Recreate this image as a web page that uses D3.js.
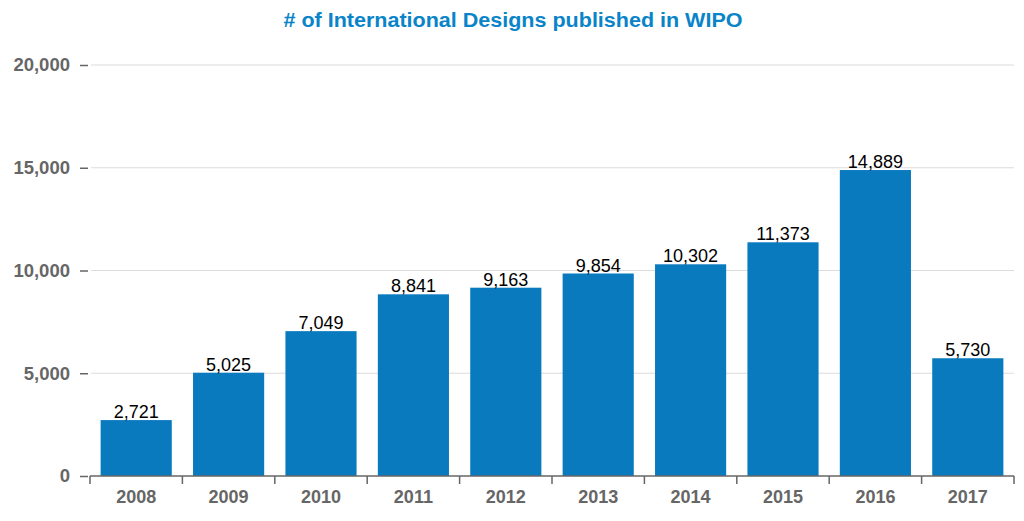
<!DOCTYPE html>
<html><head><meta charset="utf-8">
<script src="https://cdn.jsdelivr.net/npm/d3@7"></script>
<style>body{margin:0;background:#fff;}svg{display:block;}</style>
</head><body>
<svg id="c" width="1024" height="521"></svg>
<script>
const years = ["2008","2009","2010","2011","2012","2013","2014","2015","2016","2017"];
const designs = [2721,5025,7049,8841,9163,9854,10302,11373,14889,5730];
const yTicks = [0,5000,10000,15000,20000];
const title = "# of International Designs published in WIPO";

const svg = d3.select("#c");
const x = d3.scaleBand().domain(years).range([90,1014]).paddingInner(0.23).paddingOuter(0.115);
const y = d3.scaleLinear().domain([0,20000]).range([476,65]);
const fmt = d3.format(",");

svg.append("text").attr("x",513).attr("y",27).attr("text-anchor","middle")
  .attr("font-family","'Liberation Sans', Arial, sans-serif").attr("font-weight","bold")
  .attr("font-size",19.5).attr("fill","#0a84c8").attr("textLength",459).attr("lengthAdjust","spacingAndGlyphs").text(title);

// gridlines
svg.append("g").selectAll("line").data(yTicks.filter(d=>d>0)).join("line")
  .attr("x1",91).attr("x2",1014).attr("y1",d=>y(d)).attr("y2",d=>y(d))
  .attr("stroke","#dcdcdc").attr("stroke-width",1.2);

// y axis
const ya = svg.append("g").attr("transform","translate(88,0)")
  .call(d3.axisLeft(y).tickValues(yTicks).tickFormat(fmt).tickSize(8).tickPadding(10));
ya.select(".domain").remove();
ya.selectAll(".tick line").attr("stroke","#666").attr("stroke-width",1.5);
ya.selectAll(".tick text").attr("fill","#666").attr("font-family","'Liberation Sans', Arial, sans-serif")
  .attr("font-weight","bold").attr("font-size",18.5);

// bars
svg.append("g").selectAll("rect").data(years).join("rect")
  .attr("x",d=>x(d)).attr("width",x.bandwidth())
  .attr("y",(d,i)=>y(designs[i])).attr("height",(d,i)=>y(0)-y(designs[i]))
  .attr("fill","#0a7abf");

// value labels
svg.append("g").selectAll("text").data(years).join("text")
  .attr("x",d=>x(d)+x.bandwidth()/2).attr("y",(d,i)=>y(designs[i])-2)
  .attr("text-anchor","middle").attr("font-family","'Liberation Sans', Arial, sans-serif")
  .attr("font-size",18).attr("fill","#000").text((d,i)=>fmt(designs[i]));

// x axis
const xa = svg.append("g").attr("transform","translate(0,476)");
xa.append("line").attr("x1",90).attr("x2",1014).attr("y1",0).attr("y2",0).attr("stroke","#666").attr("stroke-width",1.5);
const edges = years.map(d=>x(d)-x.step()*x.paddingInner()/2);
edges.push(x(years[years.length-1])+x.bandwidth()+x.step()*x.paddingInner()/2);
xa.selectAll("line.t").data(edges).join("line").attr("class","t")
  .attr("x1",d=>d).attr("x2",d=>d).attr("y1",0).attr("y2",8).attr("stroke","#666").attr("stroke-width",1.5);
xa.selectAll("text").data(years).join("text")
  .attr("x",d=>x(d)+x.bandwidth()/2).attr("y",27).attr("text-anchor","middle")
  .attr("font-family","'Liberation Sans', Arial, sans-serif").attr("font-weight","bold")
  .attr("font-size",18).attr("fill","#666").text(d=>d);
</script>
</body></html>
